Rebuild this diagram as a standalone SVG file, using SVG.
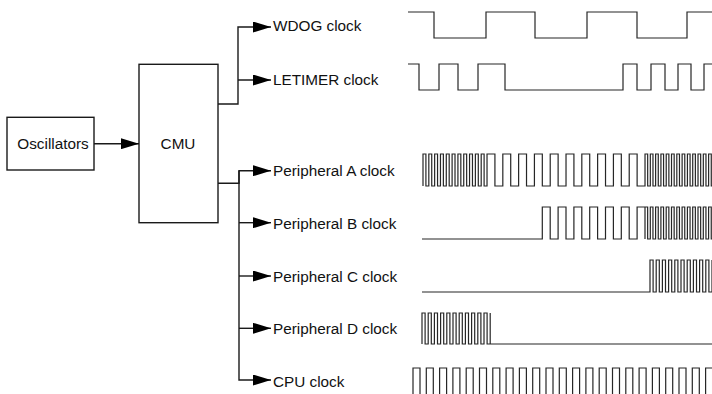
<svg xmlns="http://www.w3.org/2000/svg" width="712" height="394" viewBox="0 0 712 394">
<defs>
<style>
.box{fill:#fff;stroke:#1a1a1a;stroke-width:1.4}
.lbl{font-family:"Liberation Sans",Arial,sans-serif;font-size:15.3px;fill:#111}
.con{fill:none;stroke:#1a1a1a;stroke-width:1.4}
.wave{fill:none;stroke:#262626;stroke-width:1.2}
</style>
<marker id="ah" markerUnits="userSpaceOnUse" viewBox="0 0 18 11" refX="18" refY="5.5" markerWidth="18" markerHeight="11" orient="auto">
<path d="M0,0 L18,5.5 L0,11 z" fill="#000"/>
</marker>
</defs>
<rect width="712" height="394" fill="#fff"/>

<g id="oscillators">
<rect class="box" x="7" y="117.3" width="87" height="52.7"/>
<text class="lbl" x="53" y="149" text-anchor="middle">Oscillators</text>
</g>

<g id="cmu">
<rect class="box" x="139" y="64.3" width="79" height="158.4"/>
<text class="lbl" x="178" y="149" text-anchor="middle">CMU</text>
</g>

<g id="connectors">
<path class="con" d="M94,143.7 H139" marker-end="url(#ah)"/>
<path class="con" d="M218,104 H238 V27 H271" marker-end="url(#ah)"/>
<path class="con" d="M238,80 H271" marker-end="url(#ah)"/>
<path class="con" d="M218,183.3 H239 V170.7 H271" marker-end="url(#ah)"/>
<path class="con" d="M239,170.7 V380 H271" marker-end="url(#ah)"/>
<path class="con" d="M239,222.7 H271" marker-end="url(#ah)"/>
<path class="con" d="M239,276 H271" marker-end="url(#ah)"/>
<path class="con" d="M239,328.3 H271" marker-end="url(#ah)"/>
</g>

<g id="wdog-clock"><text class="lbl" x="273" y="31">WDOG clock</text></g>
<g id="letimer-clock"><text class="lbl" x="273" y="85.3">LETIMER clock</text></g>
<g id="peripheral-a-clock"><text class="lbl" x="273" y="176">Peripheral A clock</text></g>
<g id="peripheral-b-clock"><text class="lbl" x="273" y="229">Peripheral B clock</text></g>
<g id="peripheral-c-clock"><text class="lbl" x="273" y="281.7">Peripheral C clock</text></g>
<g id="peripheral-d-clock"><text class="lbl" x="273" y="334">Peripheral D clock</text></g>
<g id="cpu-clock"><text class="lbl" x="273" y="386.7">CPU clock</text></g>

<g id="waveforms">
<path class="wave" d="M408,12 H434 V38 H486 V12 H535 V38 H587 V12 H637 V38 H687 V12 H712"/>
<path class="wave" d="M408,64 H419 V90 H439 V64 H458 V90 H478 V64 H505 V90 H623 V64 H637 V90 H651 V64 H665 V90 H678 V64 H691 V90 H704 V64 H712"/>
<path class="wave" d="M423,186 V154
h2.91 v32 h2.91 v-32 h2.91 v32 h2.91 v-32 h2.91 v32 h2.91 v-32 h2.91 v32 h2.91 v-32
h2.91 v32 h2.91 v-32 h2.91 v32 h2.91 v-32 h2.91 v32 h2.91 v-32 h2.91 v32 h2.91 v-32
h2.91 v32 h2.91 v-32 h2.91 v32 h2.91 v-32 h2.91 v32 h2.91 v-32
h7.9 v32 h7.9 v-32 h7.9 v32 h7.9 v-32 h7.9 v32 h7.9 v-32 h7.9 v32 h7.9 v-32 h7.9 v32 h7.9 v-32
h7.9 v32 h7.9 v-32 h7.9 v32 h7.9 v-32 h7.9 v32 h7.9 v-32 h7.9 v32 h7.9 v-32 h7.9 v32 h7.9 v-32
h2.65 v32 h2.65 v-32 h2.65 v32 h2.65 v-32 h2.65 v32 h2.65 v-32 h2.65 v32 h2.65 v-32
h2.65 v32 h2.65 v-32 h2.65 v32 h2.65 v-32 h2.65 v32 h2.65 v-32 h2.65 v32 h2.65 v-32
h2.65 v32 h2.65 v-32 h2.65 v32 h2.65 v-32 h2.65 v32 h2.65 v-32 h2.65 v32 h2.65 v-32 h2.65 v32 h2.65 v-32"/>
<path class="wave" d="M422,239 H542.3 V207
h7.9 v32 h7.9 v-32 h7.9 v32 h7.9 v-32 h7.9 v32 h7.9 v-32
h7.9 v32 h7.9 v-32 h7.9 v32 h7.9 v-32 h7.9 v32 h7.9 v-32 h7.9 v32
v-32 h2.65 v32 h2.65 v-32 h2.65 v32 h2.65 v-32 h2.65 v32 h2.65 v-32 h2.65 v32 h2.65
v-32 h2.65 v32 h2.65 v-32 h2.65 v32 h2.65 v-32 h2.65 v32 h2.65 v-32 h2.65 v32 h2.65
v-32 h2.65 v32 h2.65 v-32 h2.65 v32 h2.65 v-32 h2.65 v32 h2.65 v-32 h2.65 v32 h2.65
v-32 h2.65 v32 h2.65"/>
<path class="wave" d="M422,292 H650 V260
h3.1 v32 h3.1 v-32 h3.1 v32 h3.1 v-32 h3.1 v32 h3.1 v-32 h3.1 v32 h3.1 v-32 h3.1 v32 h3.1 v-32
h3.1 v32 h3.1 v-32 h3.1 v32 h3.1 v-32 h3.1 v32 h3.1 v-32 h3.1 v32 h3.1 v-32 h3.1 v32 h3.1 v-32"/>
<path class="wave" d="M422,344 V313
h3.1 v31 h3.1 v-31 h3.1 v31 h3.1 v-31 h3.1 v31 h3.1 v-31 h3.1 v31 h3.1 v-31
h3.1 v31 h3.1 v-31 h3.1 v31 h3.1 v-31 h3.1 v31 h3.1 v-31 h3.1 v31 h3.1 v-31
h3.1 v31 h3.1 v-31 h3.1 v31 h3.1 v-31 h3.1 v31 h3.1 v-31
v31 H712"/>
<path class="wave" d="M413,400 V368
h7 v32 h6.3 v-32 h7 v32 h6.3 v-32 h7 v32 h6.3 v-32 h7 v32 h6.3 v-32 h7 v32 h6.3 v-32
h7 v32 h6.3 v-32 h7 v32 h6.3 v-32 h7 v32 h6.3 v-32 h7 v32 h6.3 v-32 h7 v32 h6.3 v-32
h7 v32 h6.3 v-32 h7 v32 h6.3 v-32 h7 v32 h6.3 v-32 h7 v32 h6.3 v-32 h7 v32 h6.3 v-32
h7 v32 h6.3 v-32 h7 v32 h6.3 v-32 h7 v32 h6.3 v-32 h7 v32 h6.3 v-32 h7 v32 h6.3 v-32
h7 v32 h6.3 v-32 h7 v32 h6.3 v-32 h7 v32 h6.3 v-32"/>
</g>
</svg>
